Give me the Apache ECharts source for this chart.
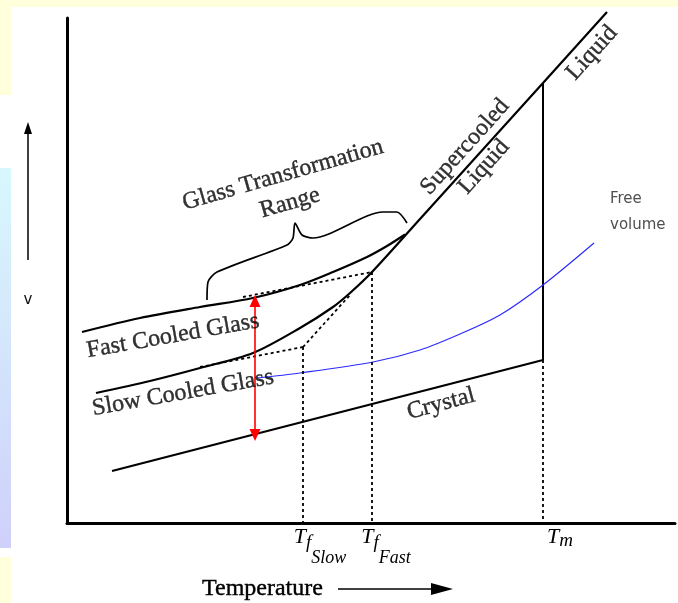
<!DOCTYPE html>
<html>
<head>
<meta charset="utf-8">
<script src="https://cdn.jsdelivr.net/npm/echarts@6.0.0/dist/echarts.min.js"></script>
<style>
  * { margin: 0; padding: 0; }
  body { background: #fff; }
</style>
</head>
<body>
<!-- 容器 -->
<div id="main" style="width: 678px;height: 603px;"></div>
<script>
// arbitrary units: temperature 0..152, volume 0..101
var slowGlassLiquid = [[7.25, 26], [20.75, 28.4], [33.25, 31], [46.5, 34], [58.25, 39], [66.5, 43.2], [70.75, 46], [76.25, 50.2], [88.25, 60.8], [119, 88.0], [135, 102.2]];
var fastGlass = [[3.75, 38.2], [18.25, 41], [33.25, 43.2], [46.5, 45], [58.25, 47.6], [66.5, 50.2], [75, 53.2], [80, 55.4], [84.5, 57.7]];
var crystal = [[11.25, 10.4], [119, 32.6]];
var tmLine = [[119, 88.0], [119, 32.6]];
var freeVolume = [[47.5, 29], [58.25, 30], [76.5, 32.2], [88.25, 34.6], [98.25, 37.8], [108.25, 41.6], [119, 47.6], [131.75, 56]];
var bracket = [[35, 44.6], [35.25, 48.2], [37.5, 50.2], [55, 55.6], [56.5, 57], [57, 60], [58.75, 57.6], [61.5, 57], [79, 62.2], [82.5, 62.2], [85, 60]];
var dottedGuides = [
  [[44, 45.2], [76.25, 50.2]],
  [[76.25, 50.2], [76.25, 0]],
  [[33.25, 31.2], [59, 35.2]],
  [[59, 35.2], [70.75, 45.6]],
  [[59, 35.2], [59, 0]],
  [[119, 32.6], [119, 0]]
];
var redArrow = [[47, 17.6], [47, 44.4]];

// tick labels (the Slow one sits on a second axis so it is not dropped as overlapping)
var tickValues = [59, 76.25, 119];
var tickLabels = ['{a|T}{f|f}{s|Slow}', '{b|T}{f|f}{s|Fast}', '{c|T}{m|m}'];

var annotationText = ['Fast Cooled Glass', 'Slow Cooled Glass', 'Glass Transformation', 'Range', 'Crystal', 'Supercooled', 'Liquid', 'Liquid'];
var annotationPos = [[26.5, 37.4], [29, 26.0], [54, 69.6], [55.75, 64], [93.5, 23.8], [99.5, 75.2], [104.25, 71.2], [131.25, 94]];
var annotationRot = [10, 10, 16, 16, 15, 48, 48, 48];

var serif = 'Liberation Serif';
var ink = '#000';

var mycharts = echarts.init(document.getElementById('main'));

var labelData = annotationText.map(function (t, i) {
  return {
    value: annotationPos[i],
    label: { formatter: t, rotate: annotationRot[i] }
  };
});
labelData.push({
  value: [135.75, 62.2],
  label: {
    formatter: 'Free\nvolume', align: 'left', fontFamily: 'DejaVu Sans',
    fontSize: 15, lineHeight: 26, color: '#222', textBorderWidth: 0
  }
});

function solid(name, data, w, smooth) {
  return {
    name: name, type: 'line', data: data, symbol: 'none', smooth: smooth || false,
    clip: false, silent: true,
    lineStyle: { color: ink, width: w }
  };
}

function it(size, pad) {
  return { fontFamily: serif, fontStyle: 'italic', fontSize: size, lineHeight: size, color: ink, verticalAlign: 'top', padding: pad };
}
var tickRich = {
  a: it(22, [0, 0, 0, 34]),
  b: it(22, [0, 0, 0, 28]),
  c: it(22, [0, 0, 0, 34]),
  f: it(19, [7, 0, 0, 0]),
  s: it(18, [23, 0, 0, 0]),
  m: it(19, [5, 0, 0, 0])
};

function tickAxis(values, lineShow) {
  return {
    type: 'value', min: 0, max: 152, position: 'bottom',
    splitLine: { show: false },
    axisTick: { show: false },
    axisLine: { show: lineShow, lineStyle: { color: '#000', width: 3 } },
    axisLabel: {
      customValues: values,
      margin: 3,
      hideOverlap: false,
      formatter: function (v) {
        var i = tickValues.indexOf(v);
        return i < 0 ? '' : tickLabels[i];
      },
      rich: tickRich
    }
  };
}

var option = {
  backgroundColor: '#fff',
  animation: false,
  grid: { left: 67, right: 3, top: 18, bottom: 80, outerBoundsMode: 'none' },
  xAxis: [
    tickAxis([tickValues[1], tickValues[2]], true),
    tickAxis([tickValues[0]], false)
  ],
  yAxis: {
    type: 'value', min: 0, max: 101,
    splitLine: { show: false },
    axisTick: { show: false },
    axisLabel: { show: false },
    axisLine: { lineStyle: { color: '#000', width: 3 } }
  },
  graphic: [
    { type: 'rect', z: -10, shape: { x: 0, y: 0, width: 678, height: 7 }, style: { fill: '#ffffdc' } },
    { type: 'rect', z: -10, shape: { x: 0, y: 0, width: 11, height: 95 }, style: { fill: '#ffffdc' } },
    { type: 'rect', z: -10, shape: { x: 0, y: 168, width: 11, height: 380 },
      style: { fill: new echarts.graphic.LinearGradient(0, 0, 0, 1, [{ offset: 0, color: '#d8f8fd' }, { offset: 1, color: '#cfd0fa' }]) } },
    { type: 'rect', z: -10, shape: { x: 0, y: 557, width: 11, height: 46 }, style: { fill: '#ffffdc' } },
    // V arrow
    { type: 'line', shape: { x1: 28, y1: 260, x2: 28, y2: 130 }, style: { stroke: '#000', lineWidth: 1.5 } },
    { type: 'polygon', shape: { points: [[28, 122], [24, 134], [32, 134]] }, style: { fill: '#000' } },
    { type: 'text', x: 28, y: 300, style: { text: 'v', fontFamily: 'DejaVu Sans', fontSize: 15, fill: '#111', align: 'center', verticalAlign: 'middle' } },
    // temperature axis title
    { type: 'text', x: 202, y: 589, style: { text: 'Temperature', fontFamily: serif, fontSize: 24, fill: ink, align: 'left', verticalAlign: 'middle', stroke: ink, lineWidth: 0.4 } },
    { type: 'line', shape: { x1: 338, y1: 589, x2: 440, y2: 589 }, style: { stroke: '#000', lineWidth: 1.5 } },
    { type: 'polygon', shape: { points: [[453, 589], [431, 583], [431, 595]] }, style: { fill: '#000' } }
  ],
  series: [
    solid('slow-liquid', slowGlassLiquid, 2.2, 0.3),
    solid('fast', fastGlass, 2.2, 0.3),
    solid('crystal', crystal, 2.2),
    solid('tm', tmLine, 2),
    solid('bracket', bracket, 1.7, 0.25),
    {
      name: 'guides', type: 'line', data: [], symbol: 'none', silent: true,
      markLine: {
        symbol: 'none', silent: true, animation: false,
        label: { show: false },
        lineStyle: { color: ink, width: 1.8, type: [3, 3] },
        emphasis: { disabled: true },
        data: dottedGuides.map(function (s) { return [{ coord: s[0] }, { coord: s[1] }]; })
      }
    },
    {
      name: 'free volume', type: 'line', data: freeVolume, symbol: 'none', smooth: 0.3, silent: true,
      lineStyle: { color: '#2b2bff', width: 1.2 }
    },
    {
      name: 'arrow', type: 'line', data: [], symbol: 'none', silent: true,
      markLine: {
        symbol: ['triangle', 'triangle'], symbolSize: [11, 12], silent: true, animation: false,
        label: { show: false },
        lineStyle: { color: '#ff0000', width: 1.6, type: 'solid' },
        itemStyle: { color: '#ff0000' },
        emphasis: { disabled: true },
        data: [[{ coord: redArrow[0] }, { coord: redArrow[1] }]]
      }
    },
    {
      name: 'labels', type: 'scatter', data: labelData, symbolSize: 0, clip: false, silent: true, z: 5,
      label: {
        show: true, position: 'inside', fontFamily: serif, fontSize: 24, color: ink,
        textBorderColor: ink, textBorderWidth: 0.4
      }
    }
  ]
};
mycharts.setOption(option);
</script>
</body>
</html>
